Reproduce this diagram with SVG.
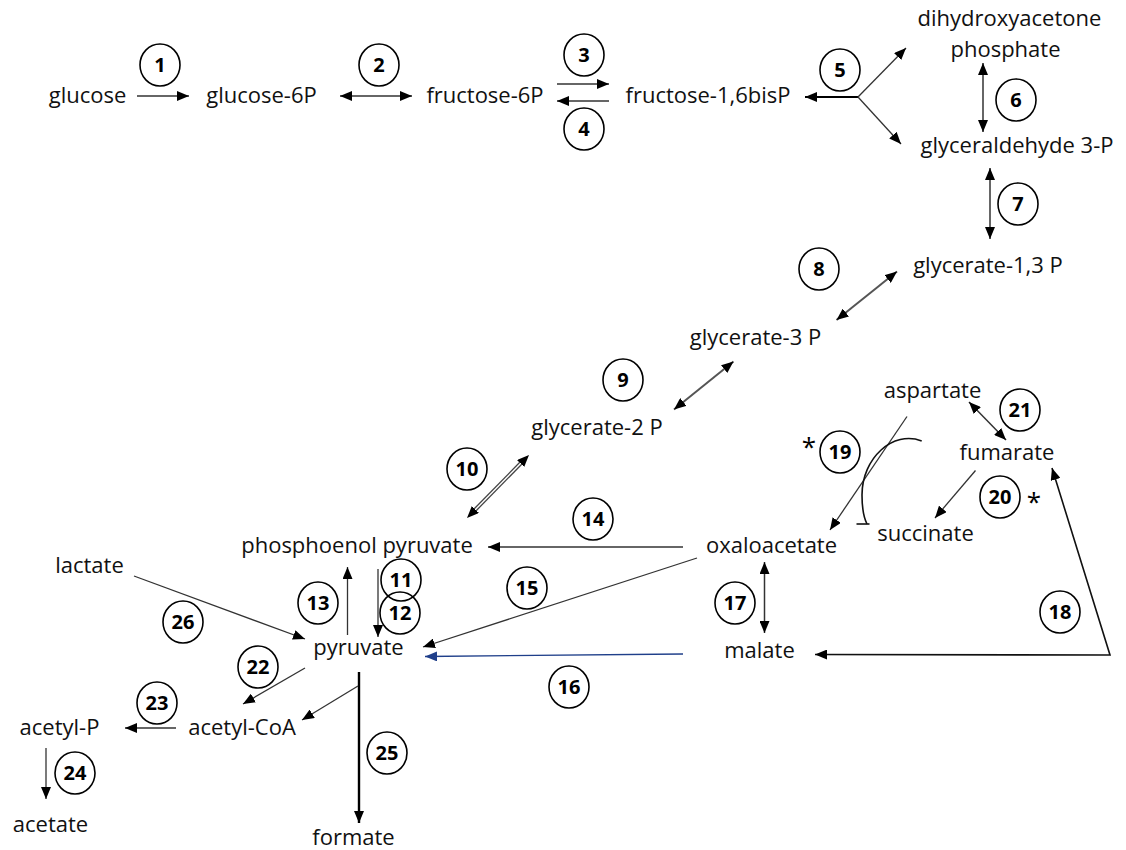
<svg xmlns="http://www.w3.org/2000/svg" width="1126" height="850" viewBox="0 0 1126 850">
<defs>
<marker id="ah" viewBox="0 0 12 10" refX="12" refY="5" markerWidth="12" markerHeight="10" markerUnits="userSpaceOnUse" orient="auto-start-reverse"><path d="M0,0 L12,5 L0,10 z" fill="#000"/></marker>
<marker id="ahb" viewBox="0 0 12 10" refX="12" refY="5" markerWidth="12" markerHeight="10" markerUnits="userSpaceOnUse" orient="auto-start-reverse"><path d="M0,0 L12,5 L0,10 z" fill="#1f3f8a"/></marker>
<style>
.t{font-family:"Open Sans","Liberation Sans",sans-serif;font-size:22px;fill:#111;text-anchor:middle}
.n{font-family:"Open Sans","Liberation Sans",sans-serif;font-size:20px;font-weight:bold;fill:#000;text-anchor:middle}
.c{fill:#fff;stroke:#000;stroke-width:1.6}
.a{fill:none;stroke:#333;stroke-width:1.3;marker-end:url(#ah)}
.d{fill:none;stroke:#333;stroke-width:1.5;marker-start:url(#ah);marker-end:url(#ah)}
.k{fill:none;stroke:#000;stroke-width:2}
.ast{font-family:"Open Sans","Liberation Sans",sans-serif;font-size:26px;fill:#000;text-anchor:middle}
</style>
</defs>
<rect width="1126" height="850" fill="#fff"/>

<g id="connectors">
<line class="a" x1="137" y1="96" x2="189" y2="96"/>
<line class="d" x1="340" y1="96" x2="412" y2="96"/>
<line class="a" x1="557" y1="84" x2="609" y2="84"/>
<line class="a" x1="609" y1="101" x2="557" y2="101"/>
<line class="k" x1="858" y1="97" x2="805" y2="97" style="marker-end:url(#ah)"/>
<line class="a" x1="858" y1="97" x2="906" y2="48"/>
<line class="a" x1="858" y1="97" x2="901" y2="144"/>
<line class="d" x1="983" y1="63" x2="983" y2="132"/>
<line class="d" x1="990" y1="168" x2="990" y2="239"/>
<line class="d" x1="897" y1="271.5" x2="836.5" y2="320" style="stroke:#555;stroke-width:2"/>
<line class="d" x1="733.5" y1="361.5" x2="674" y2="409.5" style="stroke:#555;stroke-width:2"/>
<line x1="521" y1="463" x2="474" y2="511" stroke="#444" stroke-width="4"/>
<line x1="522" y1="462" x2="473" y2="512" stroke="#fff" stroke-width="1.4"/>
<line class="d" x1="529" y1="455" x2="467" y2="518" style="stroke:none"/>
<line class="a" x1="378" y1="569" x2="378" y2="637"/>
<line class="a" x1="347.5" y1="635" x2="347.5" y2="567"/>
<line class="a" x1="683" y1="547" x2="488" y2="547"/>
<line class="a" x1="697" y1="558" x2="423" y2="647"/>
<line x1="683" y1="654" x2="425" y2="656.5" stroke="#1f3f8a" stroke-width="1.3" marker-end="url(#ahb)"/>
<line class="d" x1="764.5" y1="562" x2="764.5" y2="633"/>
<polyline class="a" points="1052,468 1110,655 815,654.5" style="stroke:#111;stroke-width:1.6;marker-start:url(#ah);marker-end:url(#ah)"/>
<line class="a" x1="907" y1="416.5" x2="830" y2="530"/>
<path d="M921.7,441 C893,430 862,458 862,495 C862,510 864,518 867,524" fill="none" stroke="#111" stroke-width="1.6"/>
<line x1="856.5" y1="524" x2="869.5" y2="524" stroke="#111" stroke-width="1.6"/>
<line class="a" x1="975.5" y1="470.5" x2="935" y2="518"/>
<line class="d" x1="969" y1="402" x2="1006" y2="440"/>
<line class="a" x1="305" y1="668" x2="243" y2="704"/>
<line class="a" x1="176" y1="728" x2="125" y2="728"/>
<line class="a" x1="46" y1="748" x2="46" y2="799"/>
<line class="k" x1="359" y1="672" x2="359" y2="823" style="stroke-width:2.4;marker-end:url(#ah)"/>
<line class="a" x1="358" y1="686" x2="302" y2="720"/>
<line class="a" x1="134" y1="576" x2="305" y2="639"/>
</g>

<g id="n-glucose"><text class="t" x="87.5" y="103">glucose</text></g>
<g id="n-glucose6p"><text class="t" x="261.5" y="103">glucose-6P</text></g>
<g id="n-fructose6p"><text class="t" x="485" y="103">fructose-6P</text></g>
<g id="n-fructose16bisp"><text class="t" x="708" y="103">fructose-1,6bisP</text></g>
<g id="n-dhap"><text class="t" x="1009.5" y="26">dihydroxyacetone</text><text class="t" x="1005.5" y="57">phosphate</text></g>
<g id="n-g3p"><text class="t" x="1017" y="153">glyceraldehyde 3-P</text></g>
<g id="n-g13p"><text class="t" x="988" y="273">glycerate-1,3 P</text></g>
<g id="n-g3p2"><text class="t" x="755.5" y="345">glycerate-3 P</text></g>
<g id="n-g2p"><text class="t" x="597" y="435">glycerate-2 P</text></g>
<g id="n-aspartate"><text class="t" x="932.5" y="398">aspartate</text></g>
<g id="n-fumarate"><text class="t" x="1007" y="460">fumarate</text></g>
<g id="n-succinate"><text class="t" x="925.5" y="541">succinate</text></g>
<g id="n-oxaloacetate"><text class="t" x="771.5" y="553">oxaloacetate</text></g>
<g id="n-pep"><text class="t" x="357" y="553">phosphoenol pyruvate</text></g>
<g id="n-lactate"><text class="t" x="89.5" y="573">lactate</text></g>
<g id="n-pyruvate"><text class="t" x="358.5" y="655">pyruvate</text></g>
<g id="n-malate"><text class="t" x="759.5" y="658">malate</text></g>
<g id="n-acetylp"><text class="t" x="59.5" y="735">acetyl-P</text></g>
<g id="n-acetylcoa"><text class="t" x="242" y="735">acetyl-CoA</text></g>
<g id="n-acetate"><text class="t" x="50.5" y="832">acetate</text></g>
<g id="n-formate"><text class="t" x="353.5" y="845">formate</text></g>

<g id="labels">
<g id="r1"><ellipse class="c" cx="160" cy="65" rx="20" ry="21"/><text class="n" x="160" y="72">1</text></g>
<g id="r2"><ellipse class="c" cx="379" cy="65" rx="20" ry="21"/><text class="n" x="379" y="72">2</text></g>
<g id="r3"><ellipse class="c" cx="584" cy="55" rx="20" ry="21"/><text class="n" x="584" y="62">3</text></g>
<g id="r4"><ellipse class="c" cx="584" cy="129" rx="20" ry="21"/><text class="n" x="584" y="136">4</text></g>
<g id="r5"><ellipse class="c" cx="840" cy="70" rx="20" ry="21"/><text class="n" x="840" y="77">5</text></g>
<g id="r6"><ellipse class="c" cx="1016" cy="100" rx="20" ry="21"/><text class="n" x="1016" y="107">6</text></g>
<g id="r7"><ellipse class="c" cx="1018" cy="204" rx="20" ry="21"/><text class="n" x="1018" y="211">7</text></g>
<g id="r8"><ellipse class="c" cx="819" cy="269" rx="20" ry="21"/><text class="n" x="819" y="276">8</text></g>
<g id="r9"><ellipse class="c" cx="623" cy="380" rx="20" ry="21"/><text class="n" x="623" y="387">9</text></g>
<g id="r10"><ellipse class="c" cx="467" cy="469" rx="20" ry="21"/><text class="n" x="467" y="476">10</text></g>
<g id="r11"><ellipse class="c" cx="401" cy="580" rx="20" ry="21"/><text class="n" x="401" y="587">11</text></g>
<g id="r12"><ellipse class="c" cx="400" cy="613" rx="20" ry="21" fill="none" style="fill:none"/><text class="n" x="400" y="620">12</text></g>
<g id="r13"><ellipse class="c" cx="318" cy="603" rx="20" ry="21"/><text class="n" x="318" y="610">13</text></g>
<g id="r14"><ellipse class="c" cx="593" cy="519" rx="20" ry="21"/><text class="n" x="593" y="526">14</text></g>
<g id="r15"><ellipse class="c" cx="527" cy="588" rx="20" ry="21"/><text class="n" x="527" y="595">15</text></g>
<g id="r16"><ellipse class="c" cx="569" cy="687" rx="20" ry="21"/><text class="n" x="569" y="694">16</text></g>
<g id="r17"><ellipse class="c" cx="735" cy="603" rx="20" ry="21"/><text class="n" x="735" y="610">17</text></g>
<g id="r18"><ellipse class="c" cx="1060" cy="612" rx="20" ry="21"/><text class="n" x="1060" y="619">18</text></g>
<g id="r19"><ellipse class="c" cx="840" cy="452" rx="20" ry="21"/><text class="n" x="840" y="459">19</text><text class="ast" x="809" y="456">*</text></g>
<g id="r20"><ellipse class="c" cx="1000" cy="497" rx="20" ry="21"/><text class="n" x="1000" y="504">20</text><text class="ast" x="1034" y="511">*</text></g>
<g id="r21"><ellipse class="c" cx="1020" cy="410" rx="20" ry="21"/><text class="n" x="1020" y="417">21</text></g>
<g id="r22"><ellipse class="c" cx="258" cy="667" rx="20" ry="21"/><text class="n" x="258" y="674">22</text></g>
<g id="r23"><ellipse class="c" cx="157" cy="703" rx="20" ry="21"/><text class="n" x="157" y="710">23</text></g>
<g id="r24"><ellipse class="c" cx="75" cy="773" rx="20" ry="21"/><text class="n" x="75" y="780">24</text></g>
<g id="r25"><ellipse class="c" cx="387" cy="753" rx="20" ry="21"/><text class="n" x="387" y="760">25</text></g>
<g id="r26"><ellipse class="c" cx="183" cy="622" rx="20" ry="21"/><text class="n" x="183" y="629">26</text></g>
</g>
</svg>
